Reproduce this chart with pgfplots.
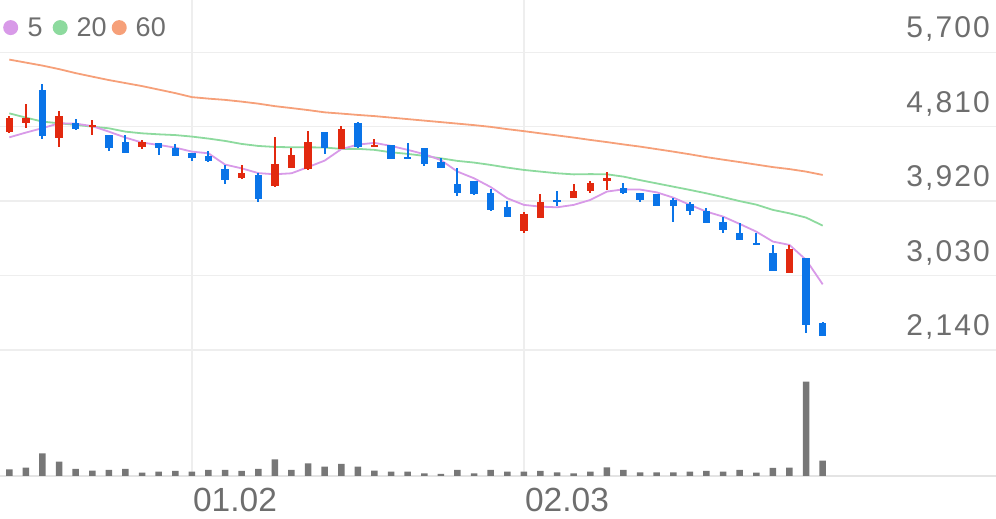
\documentclass[border=0pt]{standalone}
\usepackage{fontspec}
\setmainfont{Liberation Sans}
\usepackage{pgfplots}
\pgfplotsset{compat=1.18}
\usepackage{pgfplotstable}
\definecolor{upred}{HTML}{E2290F}
\definecolor{downblue}{HTML}{0A74E8}
\definecolor{maA}{HTML}{D89AE8}
\definecolor{maB}{HTML}{8DDA9E}
\definecolor{maC}{HTML}{F6A079}
\definecolor{volgray}{HTML}{777777}
\definecolor{gridc}{HTML}{EEEEEE}
\definecolor{basec}{HTML}{E4E4E4}
\definecolor{txt}{HTML}{6E6E6E}
\newcommand{\yfont}{\addfontfeature{LetterSpace=7}\fontsize{30}{30}\selectfont}
\newcommand{\xfont}{\fontsize{33.5}{33.5}\selectfont}
\newcommand{\legfont}{\fontsize{27}{27}\selectfont}

% rising candles (red)
\pgfplotstableread{
i o h l c
0 4750 4940 4740 4920
1 4860 5080 4800 4910
3 4680 5000 4570 4940
5 4805 4885 4705 4825
8 4565 4650 4545 4625
14 4200 4355 4185 4260
16 4095 4690 4090 4370
17 4320 4560 4320 4470
18 4310 4760 4295 4630
20 4545 4820 4545 4785
22 4570 4660 4565 4595
31 3565 3785 3535 3765
32 3715 4005 3715 3915
34 3960 4120 3960 4040
35 4040 4155 4020 4140
36 4155 4265 4055 4200
47 3055 3395 3055 3350
}\up
% falling candles (blue)
\pgfplotstableread{
i o h l c
2 5250 5320 4660 4700
4 4850 4900 4775 4780
6 4705 4705 4520 4560
7 4630 4705 4490 4500
9 4620 4620 4475 4550
10 4560 4600 4465 4465
11 4490 4490 4395 4430
12 4460 4520 4390 4395
13 4310 4355 4120 4175
15 4235 4260 3905 3945
19 4745 4745 4480 4550
21 4860 4870 4560 4570
23 4590 4590 4420 4420
24 4445 4620 4420 4420
25 4550 4550 4335 4365
26 4385 4430 4320 4320
27 4120 4320 3985 4020
28 4155 4155 3995 4010
29 4015 4060 3805 3815
30 3845 3925 3735 3735
33 3935 4040 3865 3905
37 4075 4135 4010 4015
38 4015 4015 3905 3935
39 4000 4000 3865 3865
40 3935 3960 3675 3865
41 3885 3905 3755 3805
42 3805 3835 3655 3655
43 3665 3725 3535 3575
44 3535 3655 3455 3455
45 3425 3535 3400 3400
46 3305 3395 3090 3090
48 3235 3235 2345 2440
49 2460 2470 2310 2310
}\down
% moving averages
\pgfplotstableread{
i m5 m20 m60
0 4683 4970 5613
1 4740 4919 5577
2 4793 4871 5541
3 4851 4851 5499
4 4847 4832 5451
5 4817 4811 5409
6 4751 4791 5368
7 4680 4751 5332
8 4620 4731 5296
9 4592 4719 5254
10 4560 4710 5212
11 4512 4692 5164
12 4492 4668 5146
13 4357 4640 5131
14 4312 4604 5110
15 4255 4580 5086
16 4241 4568 5056
17 4253 4564 5033
18 4327 4564 5009
19 4405 4561 4982
20 4542 4545 4967
21 4596 4545 4951
22 4617 4533 4937
23 4580 4504 4919
24 4533 4485 4901
25 4482 4461 4883
26 4410 4432 4865
27 4273 4401 4847
28 4193 4381 4829
29 4088 4353 4808
30 3954 4321 4781
31 3875 4293 4757
32 3854 4273 4731
33 3846 4253 4706
34 3875 4240 4680
35 3934 4243 4652
36 4034 4241 4626
37 4061 4213 4598
38 4058 4171 4572
39 4025 4132 4542
40 3962 4093 4512
41 3875 4054 4480
42 3794 4013 4446
43 3735 3968 4416
44 3647 3920 4387
45 3555 3878 4357
46 3436 3815 4327
47 3396 3774 4303
48 3217 3723 4273
49 2925 3627 4233
}\ma
% volume (relative units)
\pgfplotstableread{
i v
0 6.7
1 8.3
2 22.7
3 14.3
4 7
5 5.3
6 6
7 7
8 3.3
9 4.3
10 5
11 4.3
12 6
13 6
14 5
15 7
16 16.7
17 6
18 12.7
19 9.3
20 12
21 9.3
22 5.3
23 4.3
24 4.3
25 2.7
26 2
27 6
28 2.7
29 6
30 4.3
31 4.3
32 5
33 3.7
34 2.7
35 4.3
36 8.7
37 6
38 3.7
39 3.7
40 3.7
41 4.3
42 5
43 4.3
44 6
45 3.3
46 8
47 8.3
48 94.3
49 15.3
}\vol

\begin{document}
\begin{tikzpicture}[x=1pt,y=1pt]
\path[use as bounding box] (0,0) rectangle (996,519);
% volume axis with baseline and date grid
\begin{axis}[
  at={(0,43)}, anchor=south west, scale only axis,
  width=996pt, height=476pt,
  xmin=-0.56, xmax=59.44, ymin=0, ymax=476,
  axis x line=bottom, axis y line=none,
  x axis line style={-, draw=basec, line width=2pt},
  xtick={11,31}, xticklabels={01.02,02.03},
  major tick length=0pt,
  xmajorgrids, grid style={draw=gridc, line width=1.5pt},
  xticklabel style={font=\xfont, text=txt, anchor=base west, inner sep=0pt, xshift=1pt, yshift=-35.5pt},
  ytick=\empty,
]
\addplot[ybar, bar width=6.5pt, fill=volgray, draw=none] table[x=i,y=v]{\vol};
\end{axis}
% price axis
\begin{axis}[
  at={(0,49.5)}, anchor=south west, scale only axis,
  width=996pt, height=476pt,
  xmin=-0.56, xmax=59.44, ymin=612.6, ymax=6306.5,
  axis line style={draw=none}, xtick=\empty,
  ytick={2140,3030,3920,4810,5700},
  yticklabels={{2,140},{3,030},{3,920},{4,810},{5,700}},
  ymajorgrids, grid style={draw=gridc, line width=1.5pt},
  yticklabel pos=right, major tick length=0pt,
  yticklabel style={font=\yfont, text=txt, anchor=base east, inner sep=0pt, xshift=-6pt, yshift=14.4pt},
  legend image code/.code={\fill[#1] (7.5pt,0pt) circle (7.5pt);},
  legend style={at={(0.003,0.9454)}, anchor=west, draw=none, fill=none,
    font=\legfont, text=txt, inner sep=0pt, legend columns=-1,
    /tikz/column 1/.style={column sep=7.5pt},
    /tikz/column 2/.style={column sep=8pt},
    /tikz/column 3/.style={column sep=7pt},
    /tikz/column 4/.style={column sep=3pt},
    /tikz/column 5/.style={column sep=7pt}},
]
\addlegendimage{fill=maA, draw=none}\addlegendentry{5}
\addlegendimage{fill=maB, draw=none}\addlegendentry{20}
\addlegendimage{fill=maC, draw=none}\addlegendentry{60}
\addplot[maC, line width=1.8pt, forget plot] table[x=i,y=m60]{\ma};
\addplot[maB, line width=1.8pt, forget plot] table[x=i,y=m20]{\ma};
\addplot[maA, line width=1.8pt, forget plot] table[x=i,y=m5]{\ma};
% wicks
\addplot[draw=none, mark=none, forget plot, error bars/.cd, y dir=both, y explicit, error mark=none,
  error bar style={draw=upred, line width=2pt}]
  table[x=i, y expr={(\thisrow{h}+\thisrow{l})/2}, y error expr={(\thisrow{h}-\thisrow{l})/2}]{\up};
\addplot[draw=none, mark=none, forget plot, error bars/.cd, y dir=both, y explicit, error mark=none,
  error bar style={draw=downblue, line width=2pt}]
  table[x=i, y expr={(\thisrow{h}+\thisrow{l})/2}, y error expr={(\thisrow{h}-\thisrow{l})/2}]{\down};
% bodies
\addplot[draw=none, mark=none, forget plot, error bars/.cd, y dir=both, y explicit, error mark=none,
  error bar style={draw=upred, line width=7.5pt}]
  table[x=i, y expr={(\thisrow{o}+\thisrow{c})/2}, y error expr={max(abs(\thisrow{c}-\thisrow{o})/2,9)}]{\up};
\addplot[draw=none, mark=none, forget plot, error bars/.cd, y dir=both, y explicit, error mark=none,
  error bar style={draw=downblue, line width=7.5pt}]
  table[x=i, y expr={(\thisrow{o}+\thisrow{c})/2}, y error expr={max(abs(\thisrow{c}-\thisrow{o})/2,9)}]{\down};
\end{axis}
\end{tikzpicture}
\end{document}
